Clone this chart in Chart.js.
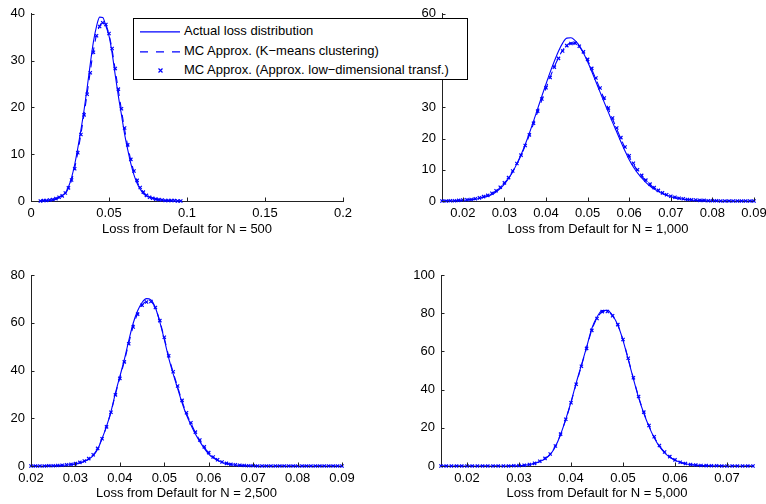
<!DOCTYPE html>
<html>
<head>
<meta charset="utf-8">
<script src="https://cdn.jsdelivr.net/npm/chart.js@4.4.0/dist/chart.umd.min.js"></script>
<style>
html, body { margin: 0; padding: 0; background: #fff; overflow: hidden; width: 766px; height: 504px; }
canvas { position: absolute; }
#legend { position: absolute; left: 133px; top: 18px; width: 335px; height: 62px; box-sizing: border-box;
  border: 1px solid #000; background: #fff; z-index: 10; font: 13px "Liberation Sans", Arial, sans-serif; color: #000; }
#legend svg { position: absolute; left: 0; top: 0; }
#legend .item { position: absolute; left: 50px; height: 16px; line-height: 16px; white-space: nowrap; }
</style>
</head>
<body>
<canvas id="c1" width="383" height="252" style="left:0;top:0"></canvas>
<canvas id="c2" width="400" height="252" style="left:383px;top:0"></canvas>
<canvas id="c3" width="383" height="252" style="left:0;top:252px"></canvas>
<canvas id="c4" width="383" height="252" style="left:383px;top:252px"></canvas>
<div id="legend">
  <svg width="335" height="62">
    <line x1="6" y1="12.8" x2="46" y2="12.8" stroke="#0000ff" stroke-width="1.2"/>
    <line x1="6" y1="32.8" x2="46" y2="32.8" stroke="#0000ff" stroke-width="1.2" stroke-dasharray="8 8"/>
    <path d="M24.5 49.5 L28.5 53.5 M28.5 49.5 L24.5 53.5" stroke="#0000ff" stroke-width="1.2"/>
  </svg>
  <div class="item" style="top:4px">Actual loss distribution</div>
  <div class="item" style="top:24px">MC Approx. (K−means clustering)</div>
  <div class="item" style="top:43px">MC Approx. (Approx. low−dimensional transf.)</div>
</div>
<script>
'use strict'

const seriesNames = ['Actual loss distribution', 'MC Approx. (K−means clustering)', 'MC Approx. (Approx. low−dimensional transf.)'];

// N = 500
const x1 = [0.006,0.008,0.010,0.012,0.014,0.016,0.018,0.020,0.022,0.024,0.026,0.028,0.030,0.032,0.034,0.036,0.038,0.040,0.042,0.044,0.046,0.048,0.050,
	0.052,0.054,0.056,0.058,0.060,0.062,0.064,0.066,0.068,0.070,0.072,0.074,0.076,0.078,0.080,0.082,0.084,0.086,0.088,0.090,0.092,0.094,0.096];
const actual1 = [0,0.1,0.1,0.2,0.3,0.5,0.8,1.2,1.7,3.0,5.0,7.8,11.3,15.2,19.4,24.2,29.3,34.0,37.3,39.3,39.2,37.4,35.3,
	31.6,26.9,22.4,18.4,14.3,11.0,8.0,5.6,3.8,2.5,1.6,1.1,0.8,0.6,0.4,0.3,0.2,0.1,0.1,0.1,0,0,0];
const kmeans1 = [0,0.1,0.1,0.2,0.3,0.5,0.7,1.1,1.6,2.7,4.4,7.0,10.4,14.3,18.5,23.0,27.7,32.1,35.5,37.4,38.2,37.6,35.6,
	32.3,28.0,23.6,19.4,15.3,11.8,8.7,6.2,4.2,2.8,1.8,1.2,0.8,0.6,0.4,0.3,0.2,0.1,0.1,0.1,0,0,0];
const lowdim1 = [0,0.1,0.1,0.2,0.3,0.5,0.8,1.1,1.7,2.8,4.5,6.9,10.3,14.2,18.4,22.8,27.4,31.8,35.3,37.3,38.1,37.7,35.8,
	32.6,28.3,23.9,19.7,15.6,12.0,8.9,6.4,4.4,2.9,1.9,1.2,0.8,0.6,0.4,0.3,0.2,0.1,0.1,0.1,0.1,0,0];

// N = 1,000
const x2 = [0.015,0.016,0.017,0.018,0.019,0.020,0.021,0.022,0.023,0.024,0.025,0.026,0.027,0.028,0.029,0.030,0.031,0.032,0.033,0.034,
	0.035,0.036,0.037,0.038,0.039,0.040,0.041,0.042,0.043,0.044,0.045,0.046,0.047,0.048,0.049,0.050,0.051,0.052,0.053,0.054,
	0.055,0.056,0.057,0.058,0.059,0.060,0.061,0.062,0.063,0.064,0.065,0.066,0.067,0.068,0.069,0.070,0.071,0.072,0.073,0.074,
	0.075,0.076,0.077,0.078,0.079,0.080,0.081,0.082,0.083,0.084,0.085,0.086,0.087,0.088,0.089,0.090];
const actual2 = [0,0,0.1,0.1,0.1,0.2,0.3,0.4,0.6,0.8,1.1,1.5,2.1,2.9,4.0,5.4,7.2,9.4,11.9,14.8,
	18.1,21.7,25.6,29.6,33.6,37.5,41.3,44.8,48.0,50.6,52.2,52.3,51.4,49.8,47.4,44.6,41.5,38.2,34.9,31.6,
	28.4,25.2,22.1,19.0,16.0,13.2,10.9,9.0,7.4,6.0,4.8,3.8,3.0,2.3,1.8,1.4,1.0,0.8,0.6,0.4,
	0.3,0.2,0.2,0.1,0.1,0.1,0,0,0,0,0,0,0,0,0,0];
const kmeans2 = [0,0.1,0.1,0.1,0.2,0.3,0.4,0.5,0.7,1.0,1.3,1.8,2.4,3.2,4.3,5.7,7.4,9.5,11.9,14.6,
	17.7,21.1,24.8,28.6,32.4,36.1,39.7,43.0,45.9,48.3,49.9,50.6,50.5,49.5,47.6,45.1,42.2,39.1,35.9,32.7,
	29.5,26.3,23.1,20.0,17.0,14.2,11.8,9.7,8.0,6.5,5.2,4.1,3.2,2.5,1.9,1.5,1.1,0.9,0.7,0.5,
	0.4,0.3,0.2,0.2,0.1,0.1,0.1,0,0,0,0,0,0,0,0,0];
const lowdim2 = [0,0,0.1,0.1,0.2,0.3,0.4,0.5,0.7,1.0,1.4,1.8,2.5,3.3,4.4,5.8,7.5,9.6,12.0,14.7,
	17.8,21.2,24.9,28.8,32.7,36.3,39.6,42.9,45.7,48.1,49.8,50.5,50.6,49.6,47.8,45.4,42.5,39.4,36.2,33.0,
	29.8,26.6,23.4,20.3,17.3,14.5,12.1,10.0,8.2,6.7,5.4,4.3,3.4,2.6,2.0,1.5,1.2,0.9,0.7,0.5,
	0.4,0.3,0.2,0.2,0.1,0.1,0.1,0,0,0,0,0,0,0,0,0];

// N = 2,500
const x3 = [0.020,0.021,0.022,0.023,0.024,0.025,0.026,0.027,0.028,0.029,0.030,0.031,0.032,0.033,0.034,0.035,0.036,0.037,0.038,0.039,
	0.040,0.041,0.042,0.043,0.044,0.045,0.046,0.047,0.048,0.049,0.050,0.051,0.052,0.053,0.054,0.055,0.056,0.057,0.058,0.059,
	0.060,0.061,0.062,0.063,0.064,0.065,0.066,0.067,0.068,0.069,0.070,0.071,0.072,0.073,0.074,0.075,0.076,0.077,0.078,0.079,
	0.080,0.081,0.082,0.083,0.084,0.085,0.086,0.087,0.088,0.089,0.090];
const actual3 = [0,0,0,0,0.1,0.1,0.2,0.3,0.4,0.6,0.9,1.3,1.9,2.8,4.3,7.0,11.5,16.6,22.8,30.5,
	37.5,44.5,52.5,59.8,65.0,68.5,70.1,69.6,66.3,60.3,53.0,45.2,38.6,32.5,26.5,21.3,17.2,13.4,10.2,7.4,
	5.0,3.4,2.3,1.5,1.0,0.6,0.4,0.3,0.2,0.1,0.1,0,0,0,0,0,0,0,0,0,
	0,0,0,0,0,0,0,0,0,0,0];
const kmeans3 = [0,0,0,0,0.1,0.1,0.2,0.3,0.4,0.6,1.0,1.4,2.0,3.0,4.6,7.3,11.6,16.6,22.6,30.0,
	36.9,43.8,51.4,58.5,63.9,67.5,68.9,68.8,66.1,60.6,53.6,45.9,39.2,33.2,27.2,22.0,17.9,14.0,10.7,7.8,
	5.4,3.7,2.5,1.6,1.1,0.7,0.4,0.3,0.2,0.1,0.1,0,0,0,0,0,0,0,0,0,
	0,0,0,0,0,0,0,0,0,0,0];
const lowdim3 = [0,0,0,0,0.1,0.1,0.2,0.3,0.5,0.7,1.0,1.5,2.1,3.1,4.7,7.4,11.4,16.4,22.5,29.8,
	36.7,43.6,51.2,58.2,63.6,67.3,68.7,68.9,66.4,60.9,53.9,46.2,39.5,33.5,27.5,22.3,18.1,14.2,10.9,8.0,
	5.6,3.8,2.6,1.7,1.1,0.7,0.5,0.3,0.2,0.1,0.1,0,0,0,0,0,0,0,0,0,
	0,0,0,0,0,0,0,0,0,0,0];

// N = 5,000
const x4 = [0.015,0.016,0.017,0.018,0.019,0.020,0.021,0.022,0.023,0.024,0.025,0.026,0.027,0.028,0.029,0.030,0.031,0.032,0.033,0.034,
	0.035,0.036,0.037,0.038,0.039,0.040,0.041,0.042,0.043,0.044,0.045,0.046,0.047,0.048,0.049,0.050,0.051,0.052,0.053,0.054,
	0.055,0.056,0.057,0.058,0.059,0.060,0.061,0.062,0.063,0.064,0.065,0.066,0.067,0.068,0.069,0.070,0.071,0.072,0.073,0.074,0.075];
const actual4 = [0,0,0,0,0,0,0,0,0,0,0,0,0,0,0.1,0.2,0.4,0.7,1.3,2.3,
	3.8,6.0,10.2,16.5,24.5,33.5,43.5,52.8,62.2,72.0,78.0,81.4,81.5,78.8,73.8,65.8,55.8,45.6,35.8,27.6,
	20.6,14.8,10.2,6.9,4.6,3.0,1.9,1.2,0.7,0.4,0.3,0.2,0.1,0.1,0,0,0,0,0,0,0];
const kmeans4 = [0,0,0,0,0,0,0,0,0,0,0,0,0,0,0.1,0.2,0.4,0.8,1.4,2.4,
	3.9,6.2,10.4,16.6,24.4,33.2,43.0,52.4,61.8,71.2,77.4,80.6,81.0,78.6,73.8,66.0,56.2,46.0,36.2,28.0,
	21.0,15.2,10.6,7.2,4.8,3.1,2.0,1.3,0.8,0.5,0.3,0.2,0.1,0.1,0,0,0,0,0,0,0];
const lowdim4 = [0,0,0,0,0,0,0,0,0,0,0,0,0,0,0.1,0.2,0.4,0.8,1.4,2.5,
	4.0,6.3,10.5,16.7,24.5,33.1,42.8,52.2,61.6,71.0,77.2,80.8,80.9,78.7,74.0,66.2,56.4,46.2,36.4,28.2,
	21.2,15.3,10.7,7.3,4.9,3.2,2.0,1.3,0.8,0.5,0.3,0.2,0.1,0.1,0,0,0,0,0,0,0];

// ticks
const xTicks1 = [0, 0.05, 0.1, 0.15, 0.2];
const yTicks1 = [0, 10, 20, 30, 40];
const xTicks2 = [0.02, 0.03, 0.04, 0.05, 0.06, 0.07, 0.08, 0.09];
const yTicks2 = [0, 10, 20, 30, 40, 50, 60];
const xTicks3 = [0.02, 0.03, 0.04, 0.05, 0.06, 0.07, 0.08, 0.09];
const yTicks3 = [0, 20, 40, 60, 80];
const xTicks4 = [0.02, 0.03, 0.04, 0.05, 0.06, 0.07];
const yTicks4 = [0, 20, 40, 60, 80, 100];

const xTitles = ['Loss from Default for N = 500', 'Loss from Default for N = 1,000', 'Loss from Default for N = 2,500', 'Loss from Default for N = 5,000'];

const blue = '#0000ff';
const font = { family: '"Liberation Sans", Arial, sans-serif', size: 13 };

Chart.defaults.color = '#000';
Chart.defaults.font.family = font.family;
Chart.defaults.font.size = 13;

function pts(xs, ys) {
	return xs.map((x, i) => ({ x: x, y: ys[i] }));
}

// MATLAB style inward tick marks
const inwardTicks = {
	id: 'inwardTicks',
	afterDraw(chart) {
		const ctx = chart.ctx;
		const a = chart.chartArea;
		const sx = chart.scales.x;
		const sy = chart.scales.y;
		ctx.save();
		ctx.strokeStyle = '#222';
		ctx.lineWidth = 1;
		ctx.beginPath();
		sx.ticks.forEach((t, i) => {
			const px = Math.round(sx.getPixelForTick(i)) + 0.5;
			ctx.moveTo(px, a.bottom);
			ctx.lineTo(px, a.bottom - 3.5);
		});
		sy.ticks.forEach((t, i) => {
			const py = Math.round(sy.getPixelForTick(i)) + 0.5;
			ctx.moveTo(a.left, py);
			ctx.lineTo(a.left + 3.5, py);
		});
		ctx.stroke();
		ctx.restore();
	}
};

function makeChart(id, xs, a, k, l, xr, yr, xt, yt, title, box) {
	return new Chart(document.getElementById(id), {
		type: 'line',
		data: {
			datasets: [
				{ label: seriesNames[0], data: pts(xs, a), borderColor: blue, borderWidth: 1.1, pointRadius: 0, cubicInterpolationMode: 'monotone' },
				{ label: seriesNames[1], data: pts(xs, k), borderColor: blue, borderWidth: 1.1, borderDash: [7, 6], pointRadius: 0, cubicInterpolationMode: 'monotone' },
				{ label: seriesNames[2], data: pts(xs, l), borderColor: blue, backgroundColor: blue, showLine: false, pointStyle: 'crossRot', pointRadius: 2.3, pointBorderWidth: 1.2, clip: 4 },
			],
		},
		options: {
			responsive: false,
			animation: false,
			events: [],
			layout: { padding: box.pad },
			plugins: { legend: { display: false }, tooltip: { enabled: false } },
			scales: {
				x: {
					type: 'linear', min: xr[0], max: xr[1],
					grid: { display: false, drawTicks: false },
					border: { display: true, color: '#222', width: 1 },
					afterBuildTicks: (s) => { s.ticks = xt.map(v => ({ value: v })); },
					afterFit: (s) => { s.height = box.xh; },
					ticks: { autoSkip: false, maxRotation: 0, padding: 5, font: font, callback: (v) => String(v) },
					title: { display: true, text: title, font: font, padding: { top: 0, bottom: box.tb } },
				},
				y: {
					min: yr[0], max: yr[1],
					grid: { display: false, drawTicks: false },
					border: { display: true, color: '#222', width: 1 },
					afterBuildTicks: (s) => { s.ticks = yt.map(v => ({ value: v })); },
					afterFit: (s) => { s.width = box.yw; },
					ticks: { autoSkip: false, padding: 6, font: font, callback: (v) => String(v) },
				},
			},
		},
		plugins: [inwardTicks],
	});
}

makeChart('c1', x1, actual1, kmeans1, lowdim1, [0, 0.2], [0, 40], xTicks1, yTicks1, xTitles[0],
	{ pad: { left: 0, top: 11, right: 40, bottom: 0 }, xh: 51, yw: 31, tb: 15 });
makeChart('c2', x2, actual2, kmeans2, lowdim2, [0.015, 0.09], [0, 60], xTicks2, yTicks2, xTitles[1],
	{ pad: { left: 0, top: 11, right: 29, bottom: 0 }, xh: 51, yw: 59, tb: 15 });
makeChart('c3', x3, actual3, kmeans3, lowdim3, [0.02, 0.09], [0, 80], xTicks3, yTicks3, xTitles[2],
	{ pad: { left: 0, top: 23, right: 41, bottom: 0 }, xh: 38, yw: 31, tb: 3 });
makeChart('c4', x4, actual4, kmeans4, lowdim4, [0.015, 0.075], [0, 100], xTicks4, yTicks4, xTitles[3],
	{ pad: { left: 0, top: 23, right: 13, bottom: 0 }, xh: 38, yw: 58, tb: 3 });
</script>
</body>
</html>
